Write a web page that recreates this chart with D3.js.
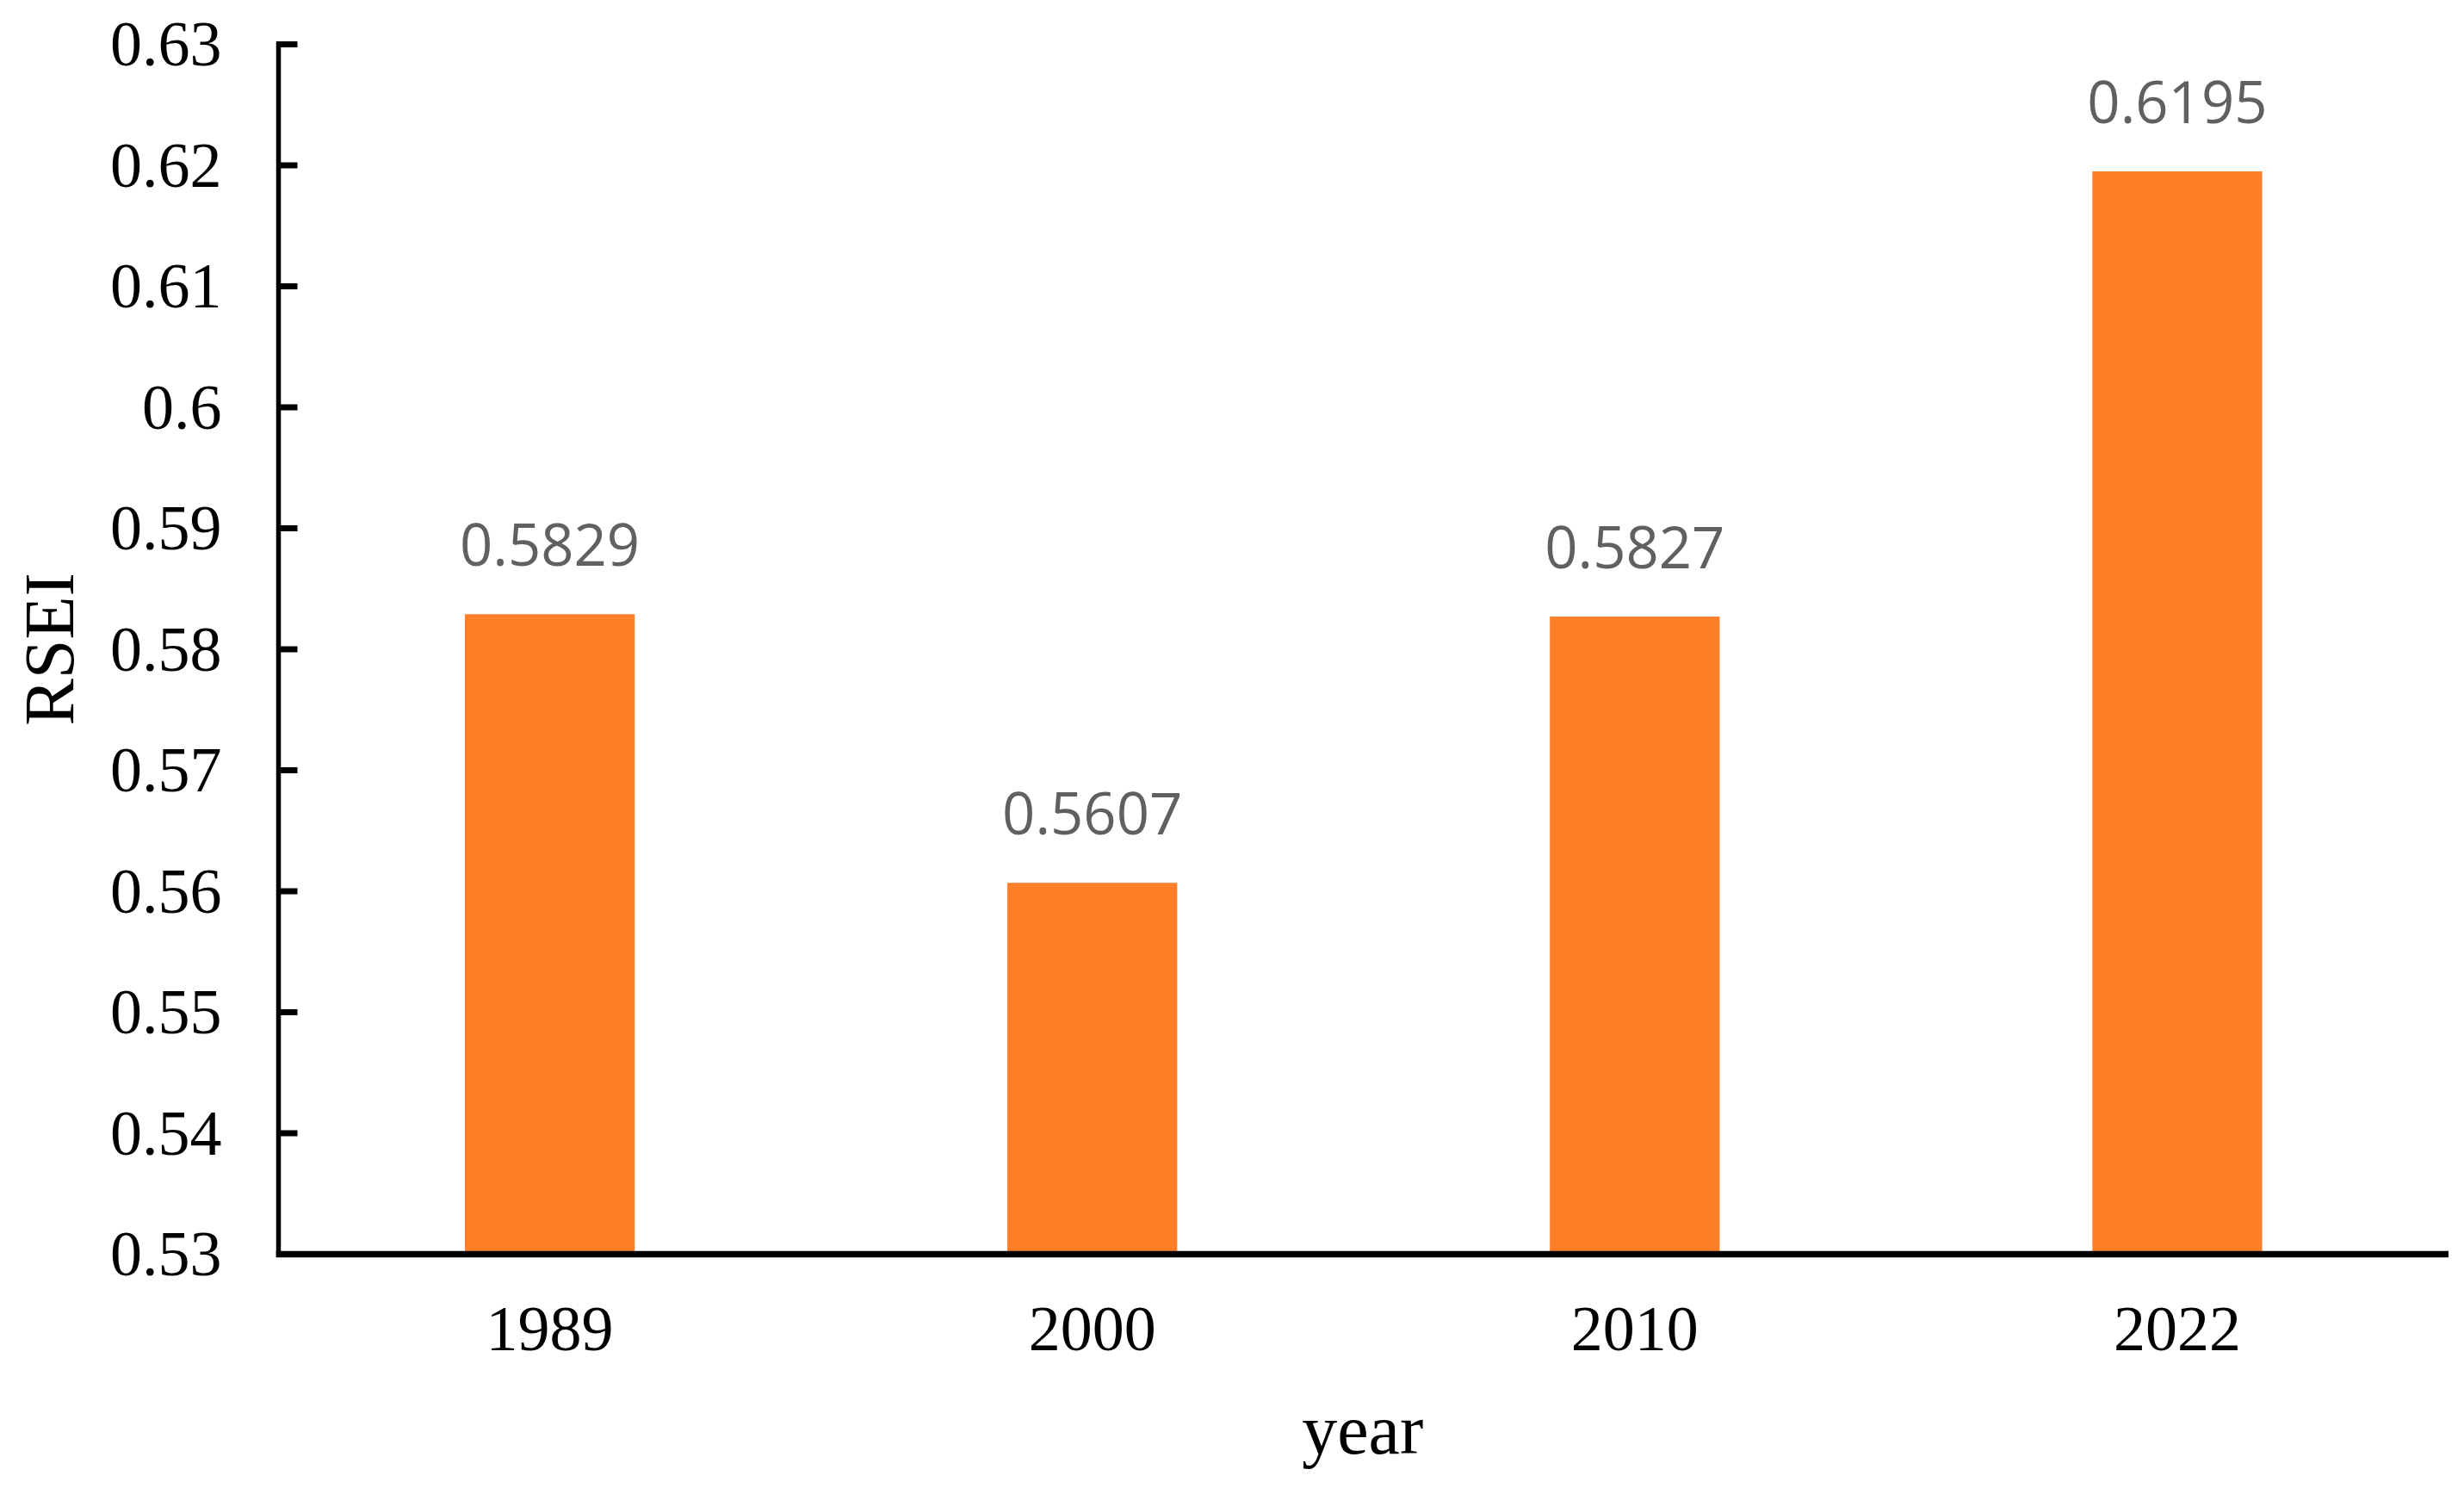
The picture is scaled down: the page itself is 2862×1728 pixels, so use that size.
<!DOCTYPE html>
<html>
<head>
<meta charset="utf-8">
<script src="https://cdn.jsdelivr.net/npm/d3@7"></script>
<style>
  html, body { margin: 0; padding: 0; background: #fff; }
  svg { display: block; }
</style>
</head>
<body>
<script>
const categories = ["1989", "2000", "2010", "2022"];
const values = [0.5829, 0.5607, 0.5827, 0.6195];
const valueLabels = ["0.5829", "0.5607", "0.5827", "0.6195"];
const yTicks = [0.53, 0.54, 0.55, 0.56, 0.57, 0.58, 0.59, 0.60, 0.61, 0.62, 0.63];
const yTickLabels = ["0.53", "0.54", "0.55", "0.56", "0.57", "0.58", "0.59", "0.6", "0.61", "0.62", "0.63"];
const xTitle = "year";
const yTitle = "RSEI";

(function () {
const W = 2862, H = 1728;
const mLeft = 323.5, mRight = 2844, mTop = 51.5, mBottom = 1456.5;

const svg = d3.select("body").append("svg").attr("width", W).attr("height", H);

const x = d3.scaleBand().domain(categories).range([mLeft, mRight])
  .paddingInner(0.687).paddingOuter(0.3435);
const y = d3.scaleLinear().domain([0.53, 0.63]).range([mBottom, mTop]);

// bars
svg.selectAll("rect.bar").data(values).enter().append("rect")
  .attr("class", "bar")
  .attr("x", (d, i) => x(categories[i]))
  .attr("width", x.bandwidth())
  .attr("y", d => y(d))
  .attr("height", d => y(0.53) - y(d))
  .attr("fill", "#FE7F27");

// value labels
svg.selectAll("text.vl").data(values).enter().append("text")
  .attr("class", "vl")
  .attr("x", (d, i) => x(categories[i]) + x.bandwidth() / 2)
  .attr("y", d => y(d) - 56)
  .attr("text-anchor", "middle")
  .attr("font-family", "'Open Sans', 'Noto Sans', sans-serif")
  .attr("font-size", 67)
  .attr("fill", "#606060")
  .text((d, i) => valueLabels[i]);

// y axis
const yAxis = d3.axisLeft(y).tickValues(yTicks).tickSize(0)
  .tickFormat((d, i) => yTickLabels[i]);
const gy = svg.append("g").attr("transform", `translate(${mLeft},0)`).call(yAxis);
gy.select(".domain").remove();
gy.selectAll(".tick line").remove();
gy.selectAll(".tick text")
  .attr("x", -66)
  .attr("dy", 24)
  .attr("font-family", "'Liberation Serif', 'Times New Roman', serif")
  .attr("font-size", 74)
  .attr("fill", "#000")
  .attr("text-anchor", "end");
// inward tick marks
svg.selectAll("line.ytick").data(yTicks).enter().append("line")
  .attr("class", "ytick")
  .attr("x1", mLeft).attr("x2", mLeft + 22)
  .attr("y1", d => y(d)).attr("y2", d => y(d))
  .attr("stroke", "#000").attr("stroke-width", 7);
svg.append("line")
  .attr("x1", mLeft).attr("x2", mLeft)
  .attr("y1", mTop - 3.5).attr("y2", mBottom + 3.5)
  .attr("stroke", "#000").attr("stroke-width", 5.5);

// x axis
const xAxis = d3.axisBottom(x).tickSize(0);
const gx = svg.append("g").attr("transform", `translate(0,${mBottom})`).call(xAxis);
gx.select(".domain").remove();
gx.selectAll(".tick text")
  .attr("y", 111)
  .attr("dy", 0)
  .attr("font-family", "'Liberation Serif', 'Times New Roman', serif")
  .attr("font-size", 74)
  .attr("fill", "#000");
svg.append("line")
  .attr("x1", mLeft - 2.75).attr("x2", mRight)
  .attr("y1", mBottom).attr("y2", mBottom)
  .attr("stroke", "#000").attr("stroke-width", 7.5);

// titles
svg.append("text")
  .attr("x", (mLeft + mRight) / 2 - 1)
  .attr("y", 1688)
  .attr("text-anchor", "middle")
  .attr("font-family", "'Liberation Serif', 'Times New Roman', serif")
  .attr("font-size", 82)
  .attr("fill", "#000")
  .text(xTitle);

svg.append("text")
  .attr("transform", `translate(85,${(mTop + mBottom) / 2}) rotate(-90)`)
  .attr("text-anchor", "middle")
  .attr("font-family", "'Liberation Serif', 'Times New Roman', serif")
  .attr("font-size", 82)
  .attr("fill", "#000")
  .text(yTitle);
})();
</script>
</body>
</html>
